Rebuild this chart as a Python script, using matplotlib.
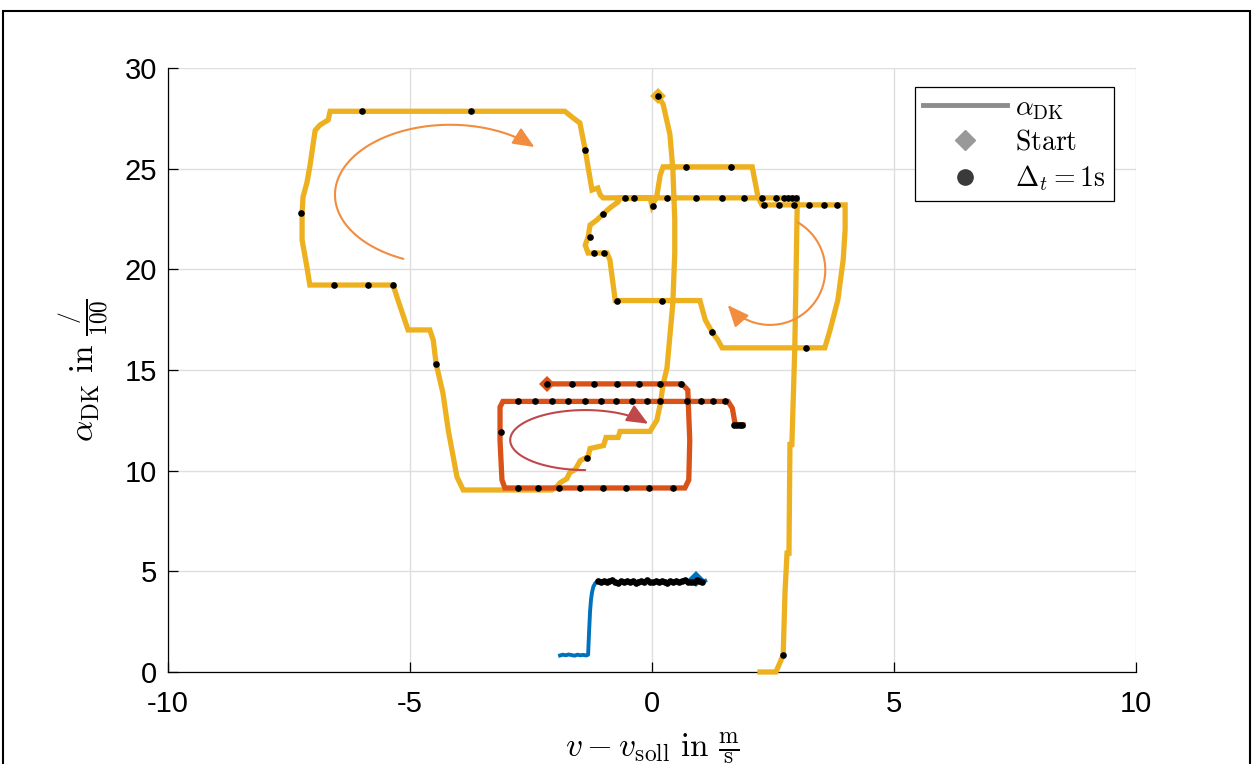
import numpy as np
import matplotlib
matplotlib.use('Agg')
import matplotlib.pyplot as plt
from matplotlib.patches import FancyArrowPatch, Rectangle
from matplotlib.path import Path
from matplotlib.lines import Line2D

plt.rcParams['mathtext.fontset'] = 'cm'
plt.rcParams['font.family'] = ['Liberation Sans', 'DejaVu Sans']
plt.rcParams['axes.unicode_minus'] = False

# ============ Daten ============
# Fahrt 3 (gelb): Geschwindigkeitsabweichung / Drosselklappe
gelb_x = [0.12, 0.23, 0.37, 0.43, 0.47, 0.47, 0.43, 0.37, 0.31, 0.23, 0.17, 0.10, 0.02, -0.04,
          -0.66, -0.70, -0.95, -1.00, -1.28, -1.32, -1.48, -1.59, -1.70, -1.76, -1.90, -1.97, -2.07,
          -3.90, -4.03, -4.21, -4.32, -4.46, -4.52, -4.59, -5.04, -5.25, -5.35,
          -7.07, -7.13, -7.23, -7.23, -7.21, -7.13, -7.07, -6.96, -6.86, -6.69, -6.65,
          -1.80, -1.63, -1.49, -1.38, -1.24, -1.12, -1.07, -1.01,
          -0.04, 0.00, 0.10, 0.17, 0.23,
          2.07, 2.19, 2.27,
          3.99, 3.99, 3.95, 3.84, 3.68, 3.57,
          1.45, 1.36, 1.24, 1.10, 0.99,
          -0.76, -0.87, -0.93,
          -1.32, -1.38, -1.32, -1.28, -1.14, -1.01, -0.87, -0.70, -0.66,
          3.00, 3.00, 2.97, 2.95, 2.89, 2.85, 2.83, 2.79, 2.75, 2.71, 2.56, 2.23]
gelb_y = [28.60, 28.20, 26.70, 25.00, 22.50, 20.80, 18.30, 16.70, 15.10, 14.30, 13.30, 12.50, 12.20, 11.95,
          11.95, 11.65, 11.65, 11.25, 11.10, 10.70, 10.50, 10.05, 9.90, 9.60, 9.40, 9.20, 9.04,
          9.04, 9.69, 12.02, 13.86, 15.30, 16.49, 16.99, 16.99, 18.48, 19.22,
          19.22, 20.12, 21.46, 22.80, 23.60, 24.30, 25.09, 26.90, 27.17, 27.42, 27.85,
          27.85, 27.52, 27.27, 25.93, 23.94, 24.04, 23.70, 23.55,
          23.55, 23.15, 23.65, 24.69, 25.09,
          25.09, 23.60, 23.20,
          23.20, 21.96, 20.47, 18.48, 16.99, 16.10,
          16.10, 16.49, 16.89, 17.49, 18.45,
          18.45, 20.47, 20.81,
          20.81, 21.20, 21.61, 22.20, 22.45, 22.75, 23.05, 23.35, 23.55,
          23.55, 23.20, 18.80, 16.10, 11.30, 11.30, 5.90, 5.90, 4.07, 0.84, 0.00, 0.00]
gelb_punkte_x = [0.12, -5.99, -3.74, -1.38, -7.25, -6.57, -5.87, -5.35, -4.46,
                 0.70, 1.63,
                 -0.55, -0.38, 0.31, 0.91, 1.45, 1.90, 2.27, 2.56, 2.73, 2.81, 2.89, 2.98,
                 0.02,
                 2.31, 2.62, 2.93, 3.24, 3.55, 3.82,
                 -1.01, -1.28, -1.20, -0.99, -0.72, 0.21, 1.24, 3.18,
                 -1.34, 2.71]
gelb_punkte_y = [28.60, 27.85, 27.85, 25.93, 22.80, 19.22, 19.22, 19.22, 15.30,
                 25.09, 25.09,
                 23.55, 23.55, 23.55, 23.55, 23.55, 23.55, 23.55, 23.55, 23.55, 23.55, 23.55, 23.55,
                 23.15,
                 23.20, 23.20, 23.20, 23.20, 23.20, 23.20,
                 22.75, 21.61, 20.81, 20.81, 18.45, 18.45, 16.89, 16.10,
                 10.63, 0.84]

# Fahrt 2 (rot)
rot_x = [-2.17, 0.62, 0.74, 0.78, 0.76, 0.68, -3.04, -3.10, -3.14, -3.14, -3.08, 1.57, 1.66, 1.71, 1.74, 1.88]
rot_y = [14.31, 14.31, 14.00, 11.50, 9.54, 9.14, 9.14, 9.54, 11.50, 13.16, 13.44, 13.44, 13.10, 12.42, 12.27, 12.27]
rot_punkte_x = [-2.17, -1.65, -1.20, -0.72, -0.27, 0.17, 0.60,
                -2.77, -2.42, -2.07, -1.74, -1.38, -1.05, -0.74, -0.41, -0.10, 0.17, 0.72, 1.01, 1.26, 1.51,
                -3.12,
                -2.77, -2.36, -1.92, -1.49, -1.01, -0.54, -0.06, 0.43,
                1.70, 1.76, 1.82, 1.86]
rot_punkte_y = [14.31] * 7 + [13.44] * 14 + [11.92] + [9.14] * 8 + [12.27] * 4

# Fahrt 1 (blau)
blau_x = [-1.90, -1.84, -1.78, -1.72, -1.66, -1.60, -1.54, -1.48, -1.42, -1.36, -1.32, -1.30, -1.28,
          -1.26, -1.24, -1.21, -1.17, -1.12,
          -1.06, -1.00, -0.94, -0.88, -0.82, -0.76, -0.70, -0.64, -0.58, -0.52, -0.46, -0.40,
          -0.34, -0.28, -0.22, -0.16, -0.10, -0.04, 0.02, 0.08, 0.14, 0.20, 0.26, 0.32, 0.38,
          0.44, 0.50, 0.56, 0.62, 0.68, 0.74, 0.80, 0.86, 0.92, 0.98, 1.04, 1.10]
blau_y = [0.82, 0.86, 0.83, 0.87, 0.84, 0.81, 0.86, 0.83, 0.85, 0.82, 0.86, 2.00, 3.00,
          3.60, 3.95, 4.25, 4.42, 4.50,
          4.47, 4.52, 4.45, 4.50, 4.55, 4.48, 4.44, 4.51, 4.49, 4.53, 4.46, 4.50,
          4.43, 4.49, 4.52, 4.47, 4.55, 4.48, 4.45, 4.50, 4.46, 4.53, 4.49, 4.44, 4.51,
          4.48, 4.52, 4.46, 4.50, 4.55, 4.47, 4.49, 4.45, 4.58, 4.50, 4.46, 4.53]

# Startpunkte (gelb, rot, blau)
start_x = [0.12, -2.17, 0.91]
start_y = [28.60, 14.31, 4.62]
FARBEN = ['#EDB120', '#D95319', '#0072BD']

# Richtungspfeile: Mittelpunkt, Halbachsen, Winkelbereich
PFEILE = [
    ((-4.17, 23.70), 2.38, 3.48, 246, 43, '#F28C3F'),
    ((2.44, 19.97), 1.14, 2.73, 60, -140, '#F28C3F'),
    ((-1.38, 11.52), 1.55, 1.49, -90, -327, '#C0474A'),
]

# ============ Plot ============
fig = plt.figure(figsize=(12.53, 7.64), dpi=100)
ax = fig.add_axes([168 / 1253, 92 / 764, 968 / 1253, 604 / 764])

ax.plot(gelb_x, gelb_y, color=FARBEN[0], lw=3.8, zorder=3, clip_on=False, solid_joinstyle='miter')
ax.plot(rot_x, rot_y, color=FARBEN[1], lw=3.8, zorder=3, clip_on=False, solid_joinstyle='miter')
ax.plot(blau_x, blau_y, color=FARBEN[2], lw=2.8, zorder=3, clip_on=False)

# Startmarker
for i in range(3):
    ax.plot(start_x[i], start_y[i], 'D', color=FARBEN[i], ms=8, mew=0, zorder=4)

# 1s-Punkte
ax.plot(gelb_punkte_x, gelb_punkte_y, 'o', color='black', ms=4.8, mew=0, zorder=5, clip_on=False)
ax.plot(rot_punkte_x, rot_punkte_y, 'o', color='black', ms=4.8, mew=0, zorder=5)
blau_px = [x for x in blau_x if x >= -1.12 and x <= 1.05]
blau_py = [y for x, y in zip(blau_x, blau_y) if x >= -1.12 and x <= 1.05]
ax.plot(blau_px, blau_py, 'o', color='black', ms=4.8, mew=0, zorder=5)

# Pfeile
for (cx, cy), a, b, t0, t1, farbe in PFEILE:
    t = np.radians(np.linspace(t0, t1, 80))
    verts = np.column_stack([cx + a * np.cos(t), cy + b * np.sin(t)])
    pfeil = FancyArrowPatch(path=Path(verts), arrowstyle='-|>,head_length=0.65,head_width=0.28',
                            mutation_scale=20, color=farbe, lw=1.5, zorder=6)
    ax.add_patch(pfeil)

ax.set_xlim(-10, 10)
ax.set_ylim(0, 30)
ax.set_xticks([-10, -5, 0, 5, 10])
ax.set_yticks([0, 5, 10, 15, 20, 25, 30])
ax.grid(True, color='#dedede', lw=1.0)
ax.set_axisbelow(True)
for s in ['top', 'right']:
    ax.spines[s].set_visible(False)
for s in ['left', 'bottom']:
    ax.spines[s].set_linewidth(0.9)
ax.tick_params(direction='in', length=7, width=0.9, labelsize=21)
ax.tick_params(axis='x', pad=13)
ax.tick_params(axis='y', pad=8)

ax.set_xlabel(r'$v - v_{\mathrm{soll}}\ \mathrm{in}\ \frac{\mathrm{m}}{\mathrm{s}}$', fontsize=24, labelpad=9)
ax.set_ylabel(r'$\alpha_{\mathrm{DK}}\ \mathrm{in}\ \frac{/}{100}$', fontsize=24, labelpad=10)

handles = [Line2D([], [], color='#8c8c8c', lw=3.5),
           Line2D([], [], marker='D', color='#999999', ls='none', ms=10),
           Line2D([], [], marker='o', color='#3a3a3a', ls='none', ms=11)]
labels = [r'$\alpha_{\mathrm{DK}}$', r'$\mathrm{Start}$', r'$\Delta_t = 1\mathrm{s}$']
leg = ax.legend(handles, labels, loc='upper right', bbox_to_anchor=(0.977, 0.969),
                borderaxespad=0, fontsize=20, handlelength=3.0, handletextpad=0.3, borderpad=0.3,
                labelspacing=0.28, fancybox=False, framealpha=1, edgecolor='black')
leg.get_frame().set_linewidth(0.9)

# Rahmen um die Abbildung
fig.patches.append(Rectangle((3 / 1253, -0.05), 1247 / 1253, 1.05 - 11 / 764,
                             transform=fig.transFigure, fill=False, ec='black', lw=1.5))

plt.savefig('out.png', dpi=100)
plt.close()
